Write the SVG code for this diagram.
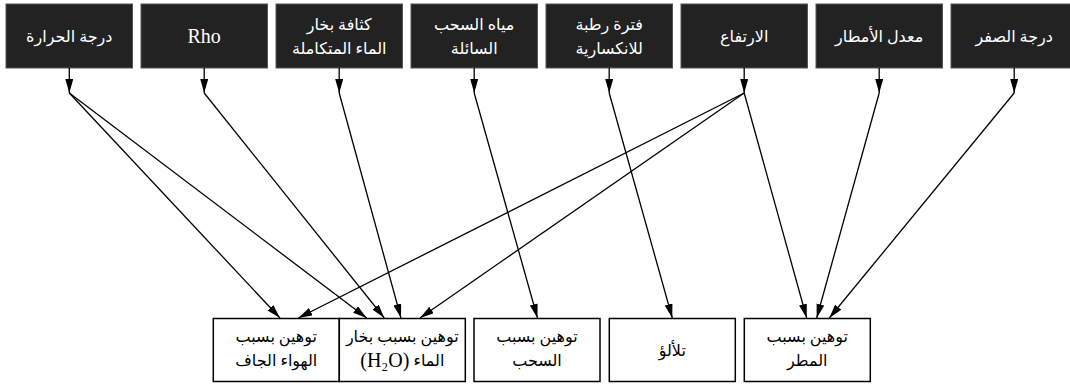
<svg xmlns="http://www.w3.org/2000/svg" width="1070" height="385" viewBox="0 0 1070 385">
<style>
.top rect{fill:#222;stroke:#555;stroke-width:1}
.top text{fill:#fff}
.bot rect{fill:#fff;stroke:#000;stroke-width:1.5}
.bot text{fill:#000}
text{font-family:"Liberation Serif","DejaVu Sans",serif;font-size:16px;text-anchor:middle;dominant-baseline:central;direction:rtl}
.lat{font-size:20px}
#edges line{stroke:#000;stroke-width:1.3;marker-end:url(#ah)}
</style>
<defs>
<marker id="ah" markerUnits="userSpaceOnUse" markerWidth="15" markerHeight="9" refX="14" refY="4" orient="auto" viewBox="0 0 15 9">
<path d="M0,0 L14,4 L0,8 z" fill="#000"/>
</marker>
</defs>
<g id="n_temp" class="top"><rect x="6" y="4" width="126.5" height="64"/><text x="69.3" y="36">درجة الحرارة</text></g>
<g id="n_rho" class="top"><rect x="141" y="4" width="126.5" height="64"/><text class="lat" x="204.2" y="36">Rho</text></g>
<g id="n_iwv" class="top"><rect x="276" y="4" width="126.5" height="64"/><text x="339.2" y="24">كثافة بخار</text><text x="339.2" y="48">الماء المتكاملة</text></g>
<g id="n_lwc" class="top"><rect x="411" y="4" width="126.5" height="64"/><text x="474.2" y="24">مياه السحب</text><text x="474.2" y="48">السائلة</text></g>
<g id="n_wet" class="top"><rect x="546" y="4" width="126.5" height="64"/><text x="609.2" y="24">فترة رطبة</text><text x="609.2" y="48">للانكسارية</text></g>
<g id="n_alt" class="top"><rect x="681" y="4" width="126.5" height="64"/><text x="744.2" y="36">الارتفاع</text></g>
<g id="n_rain" class="top"><rect x="816" y="4" width="126.5" height="64"/><text x="879.2" y="36">معدل الأمطار</text></g>
<g id="n_zero" class="top"><rect x="951" y="4" width="126.5" height="64"/><text x="1014.2" y="36">درجة الصفر</text></g>

<g id="b_dry" class="bot"><rect x="213.3" y="318.5" width="126" height="63"/><text x="276.3" y="336">توهين بسبب</text><text x="276.3" y="360">الهواء الجاف</text></g>
<g id="b_h2o" class="bot"><rect x="339.3" y="318.5" width="126" height="63"/><text x="402.3" y="336">توهين بسبب بخار</text><text x="402.3" y="360">الماء <tspan class="lat">(H₂O)</tspan></text></g>
<g id="b_cloud" class="bot"><rect x="474" y="318.5" width="126" height="63"/><text x="537" y="336">توهين بسبب</text><text x="537" y="360">السحب</text></g>
<g id="b_scint" class="bot"><rect x="609.3" y="318.5" width="126" height="63"/><text x="672.3" y="350">تلألؤ</text></g>
<g id="b_rain" class="bot"><rect x="744.3" y="318.5" width="126" height="63"/><text x="807.3" y="336">توهين بسبب</text><text x="807.3" y="360">المطر</text></g>

<g id="edges">
<line x1="69.3" y1="68" x2="69.3" y2="93"/>
<line x1="204.2" y1="68" x2="204.2" y2="93"/>
<line x1="339.2" y1="68" x2="339.2" y2="93"/>
<line x1="474.2" y1="68" x2="474.2" y2="93"/>
<line x1="609.2" y1="68" x2="609.2" y2="93"/>
<line x1="744.2" y1="68" x2="744.2" y2="93"/>
<line x1="879.2" y1="68" x2="879.2" y2="93"/>
<line x1="1014.2" y1="68" x2="1014.2" y2="93"/>
<line x1="69.3" y1="93" x2="280" y2="318"/>
<line x1="69.3" y1="93" x2="366.7" y2="318"/>
<line x1="204.2" y1="93" x2="384.3" y2="318"/>
<line x1="339.2" y1="93" x2="401" y2="318"/>
<line x1="474.2" y1="93" x2="537.5" y2="318"/>
<line x1="609.2" y1="93" x2="672.3" y2="318"/>
<line x1="744.2" y1="93" x2="298.3" y2="318"/>
<line x1="744.2" y1="93" x2="420" y2="318"/>
<line x1="744.2" y1="93" x2="806.7" y2="318"/>
<line x1="879.2" y1="93" x2="816.7" y2="318"/>
<line x1="1014.2" y1="93" x2="829.3" y2="318"/>
</g>
</svg>
